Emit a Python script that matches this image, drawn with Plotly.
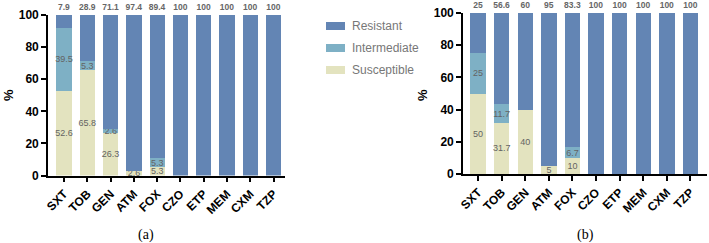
import plotly.graph_objects as go

categories = ["SXT", "TOB", "GEN", "ATM", "FOX", "CZO", "ETP", "MEM", "CXM", "TZP"]

# Panel (a)
a_susceptible = [52.6, 65.8, 26.3, 2.6, 5.3, 0, 0, 0, 0, 0]
a_intermediate = [39.5, 5.3, 2.6, 0, 5.3, 0, 0, 0, 0, 0]
a_resistant = [7.9, 28.9, 71.1, 97.4, 89.4, 100, 100, 100, 100, 100]

# Panel (b)
b_susceptible = [50, 31.7, 40, 5, 10, 0, 0, 0, 0, 0]
b_intermediate = [25, 11.7, 0, 0, 6.7, 0, 0, 0, 0, 0]
b_resistant = [25, 56.6, 60, 95, 83.3, 100, 100, 100, 100, 100]

series_names = ["Resistant", "Intermediate", "Susceptible"]
colors = {"Resistant": "#6385B4", "Intermediate": "#7EB0C5", "Susceptible": "#E3E3BF"}

FONT = "Arial, Liberation Sans, sans-serif"
W, H = 709, 243


def lab(vals):
    return ["" if v == 0 else f"{v:g}" for v in vals]


fig = go.Figure()

panels = [
    ("x", "y", a_susceptible, a_intermediate, a_resistant),
    ("x2", "y2", b_susceptible, b_intermediate, b_resistant),
]

for xa, ya, s, i, r in panels:
    for name, vals in (("Susceptible", s), ("Intermediate", i)):
        fig.add_trace(go.Bar(
            x=categories, y=vals, name=name, xaxis=xa, yaxis=ya,
            marker=dict(color=colors[name], line=dict(width=0)),
            width=0.66, text=lab(vals), textposition="inside",
            insidetextanchor="middle", constraintext="none", textangle=0,
            textfont=dict(family=FONT, size=9, color="#636363"),
            cliponaxis=False, showlegend=False, hoverinfo="skip",
        ))
    fig.add_trace(go.Bar(
        x=categories, y=r, name="Resistant", xaxis=xa, yaxis=ya,
        marker=dict(color=colors["Resistant"], line=dict(width=0)),
        width=0.66, text=lab(r), textposition="outside",
        constraintext="none", textangle=0,
        textfont=dict(family=FONT, size=8.5, color="#666666", weight="bold"),
        cliponaxis=False, showlegend=False, hoverinfo="skip",
    ))

axis_common = dict(
    showline=True, linecolor="black", linewidth=1.6, showgrid=False, zeroline=False,
    ticks="outside", ticklen=5, tickwidth=1.5, tickcolor="black", automargin=False,
    tickfont=dict(family=FONT, size=12, color="black", weight="bold"),
)

fig.update_layout(
    template="none",
    width=W, height=H, margin=dict(l=0, r=0, t=0, b=0, pad=0, autoexpand=False),
    paper_bgcolor="white", plot_bgcolor="white",
    barmode="stack", showlegend=False,
    xaxis=dict(domain=[48 / W, 285 / W], range=[-0.69, 9.49], tickangle=-45,
               anchor="y", **axis_common),
    yaxis=dict(domain=[1 - 175.5 / H, 1 - 15 / H], range=[0, 100],
               tickvals=[0, 20, 40, 60, 80, 100], anchor="x", **axis_common),
    xaxis2=dict(domain=[463 / W, 707 / W], range=[-0.64, 9.70], tickangle=-45,
                anchor="y2", **axis_common),
    yaxis2=dict(domain=[1 - 174 / H, 1 - 13 / H], range=[0, 100],
                tickvals=[0, 20, 40, 60, 80, 100], anchor="x2", **axis_common),
)

annotations = []
shapes = []
# y-axis titles
for xp in (8, 422):
    annotations.append(dict(x=xp / W, y=1 - 95 / H, xref="paper", yref="paper",
                            xanchor="center", yanchor="middle",
                            text="%", showarrow=False, textangle=-90,
                            font=dict(family=FONT, size=13, color="black", weight="bold")))
# captions
for xp, t in ((146, "(a)"), (585, "(b)")):
    annotations.append(dict(x=xp / W, y=1 - 235 / H, xref="paper", yref="paper",
                            xanchor="center", yanchor="middle",
                            text=t, showarrow=False,
                            font=dict(family="Liberation Serif, Times New Roman, serif",
                                      size=14, color="black")))
# legend
for k, name in enumerate(series_names):
    yc = 26 + 22 * k
    shapes.append(dict(type="rect", xref="paper", yref="paper",
                       x0=326 / W, x1=345 / W, y0=1 - (yc + 4) / H, y1=1 - (yc - 4) / H,
                       fillcolor=colors[name], line=dict(width=0)))
    annotations.append(dict(x=350 / W, y=1 - yc / H, xref="paper", yref="paper",
                            xanchor="left", yanchor="middle", text=name, showarrow=False,
                            font=dict(family=FONT, size=12, color="#777777")))

fig.update_layout(annotations=annotations, shapes=shapes)

fig.write_html("out.html", config={"displayModeBar": False},
               post_script="document.body.style.margin='0';")
